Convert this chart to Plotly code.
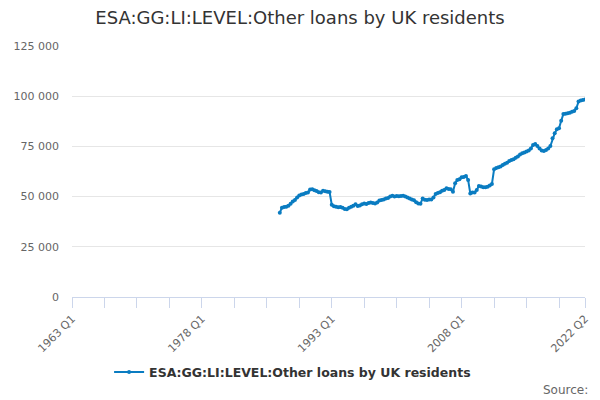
import plotly.graph_objects as go

# quarter labels 1963 Q1 .. 2022 Q2 (category axis)
all_quarters = ['%d Q%d' % (y, q) for y in range(1963, 2023) for q in range(1, 5)][:238]

first_quarter = '1987 Q1'

# GBP million
loans = [
    42000, 44500, 44800, 45000,   # 1987
    45500, 46500, 47500, 48300,   # 1988
    49500, 50500, 51000, 51300,   # 1989
    51800, 52000, 53500, 53600,   # 1990
    53200, 52800, 52200, 52000,   # 1991
    52900, 52700, 52400, 52300,   # 1992
    46000, 45200, 44900, 44700,   # 1993
    44800, 44500, 43800, 43700,   # 1994
    44500, 45000, 45500, 46200,   # 1995
    45300, 45600, 46200, 46600,   # 1996
    46300, 46800, 47000, 46800,   # 1997
    46600, 47000, 48000, 48300,   # 1998
    48500, 49100, 49300, 50000,   # 1999
    50400, 50000, 50300, 50200,   # 2000
    50300, 50400, 50000, 49600,   # 2001
    49000, 48600, 48200, 47200,   # 2002
    46600, 46500, 49100, 48400,   # 2003
    48300, 48500, 48600, 49500,   # 2004
    51300, 51800, 52200, 52900,   # 2005
    53300, 54100, 53800, 53600,   # 2006
    52400, 56600, 58300, 58600,   # 2007
    59600, 59800, 60300, 58300,   # 2008
    51600, 52000, 52000, 53300,   # 2009
    55300, 55000, 54600, 54700,   # 2010
    54900, 55500, 56300, 63600,   # 2011
    64300, 64600, 65000, 65700,   # 2012
    66300, 66800, 67700, 68200,   # 2013
    68600, 69400, 70000, 71000,   # 2014
    71600, 72000, 72500, 72900,   # 2015
    74000, 75700, 76200, 75200,   # 2016
    74000, 72900, 72700, 73200,   # 2017
    74000, 75200, 79000, 81500,   # 2018
    83500, 84000, 87800, 91100,   # 2019
    91200, 91500, 91800, 92300,   # 2020
    92600, 94000, 97300, 97800,   # 2021
    98100, 98300,                 # 2022
]

labelled = ['1963 Q1', '1978 Q1', '1993 Q1', '2008 Q1', '2022 Q2']

start = all_quarters.index(first_quarter)
quarters = all_quarters[start:start + len(loans)]

tickvals = all_quarters[::15] + [all_quarters[-1]]
ticktext = [q if q in labelled else '' for q in tickvals]

FONT = 'DejaVu Sans'

fig = go.Figure()
fig.add_trace(go.Scatter(
    x=quarters,
    y=loans,
    mode='lines+markers',
    name='ESA:GG:LI:LEVEL:Other loans by UK residents',
    line=dict(color='#0a7cc1', width=2),
    marker=dict(color='#0a7cc1', size=4),
))

fig.update_layout(
    width=600,
    height=400,
    paper_bgcolor='white',
    plot_bgcolor='white',
    separators='. ',
    font=dict(family=FONT, color='#666666', size=11),
    margin=dict(l=72, r=15, t=46, b=103, autoexpand=False),
    title=dict(
        text='ESA:GG:LI:LEVEL:Other loans by UK residents',
        x=0.5, xanchor='center',
        y=0.955, yanchor='middle',
        font=dict(family=FONT, size=18, color='#333333'),
    ),
    xaxis=dict(
        type='category',
        categoryorder='array',
        categoryarray=all_quarters,
        range=[0, len(all_quarters) - 1],
        tickmode='array',
        tickvals=tickvals,
        ticktext=ticktext,
        tickangle=-45,
        ticks='outside',
        ticklen=10,
        tickcolor='#ccd6eb',
        showline=True,
        linecolor='#ccd6eb',
        showgrid=False,
        zeroline=False,
        automargin=False,
        tickfont=dict(size=11, color='#666666'),
    ),
    yaxis=dict(
        range=[0, 125000],
        tickvals=[0, 25000, 50000, 75000, 100000, 125000],
        tickformat=',d',
        showgrid=True,
        gridcolor='#e6e6e6',
        zeroline=False,
        ticks='',
        ticklabelstandoff=12,
        automargin=False,
        tickfont=dict(size=11, color='#666666'),
    ),
    showlegend=True,
    legend=dict(
        orientation='h',
        x=0.43, xanchor='center',
        y=-0.30, yanchor='middle',
        font=dict(family=FONT, size=12.5, color='#333333', weight='bold'),
    ),
    annotations=[dict(
        text='Source:',
        xref='paper', yref='paper',
        x=1.01, xanchor='right',
        y=-0.37, yanchor='middle',
        showarrow=False,
        font=dict(family=FONT, size=12, color='#666666'),
    )],
)

# page body has a default 8px margin; drop it so the figure sits at 0,0
fig.write_html('out.html', config={'displayModeBar': False},
               post_script="document.body.style.margin='0';")
